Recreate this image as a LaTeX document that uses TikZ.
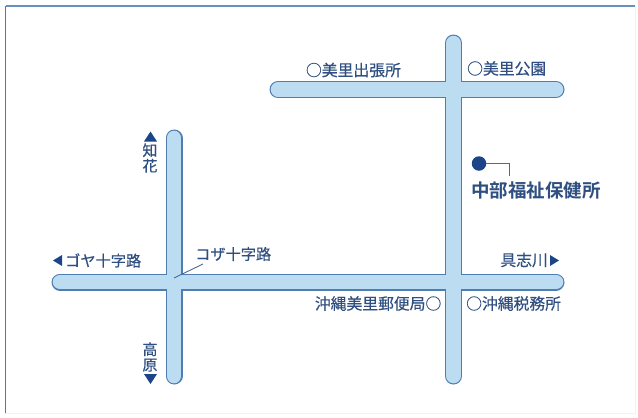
\documentclass[tikz,border=0pt]{standalone}
\usepackage{fontspec}
\setmainfont[FakeBold=0.35]{Noto Sans CJK JP}
\newfontfamily\labelbold{Noto Sans CJK JP Bold}
\definecolor{roadfill}{HTML}{BCDCF2}
\definecolor{roadedge}{HTML}{4F7DB0}
\definecolor{ink}{HTML}{2F4F80}
\definecolor{navy}{HTML}{1C4488}
\tikzset{
  roadedgeline/.style={draw=roadedge,line width=17pt,line cap=round},
  roadfillline/.style={draw=roadfill,line width=14.6pt,line cap=round},
  lab/.style={inner sep=0pt,text=ink,font=\fontsize{15.8pt}{16pt}\selectfont},
  labnarrow/.style={lab,font=\fontsize{15.2pt}{16pt}\selectfont},
  vlab/.style={lab,align=center,font=\fontsize{15pt}{15.5pt}\selectfont},
  tip/.style={fill=navy,draw=none},
  leader/.style={draw=ink!85,line width=0.9pt},
}
\begin{document}
\begin{tikzpicture}[x=1pt,y=-1pt]
\useasboundingbox (0,0) rectangle (638,418);
\fill[white] (0,0) rectangle (638,418);
% frame
\draw[draw=black!5,line width=1pt] (635,6) -- (635,413) -- (5,413);
\draw[draw=black!55,line width=1.2pt] (5.5,413) -- (5.5,6);
\draw[draw=roadedge!85,line width=1.2pt] (5.5,6) -- (635,6);
% road end points
\coordinate (va1) at (174,138);
\coordinate (va2) at (174,376);
\coordinate (vb1) at (453.5,43);
\coordinate (vb2) at (453.5,376);
\coordinate (ha1) at (60,282);
\coordinate (ha2) at (556,282);
\coordinate (hb1) at (278,89.5);
\coordinate (hb2) at (556,89.5);
% roads
\foreach \a/\b in {va1/va2,vb1/vb2,ha1/ha2,hb1/hb2}
  \draw[roadedgeline] (\a) -- (\b);
\foreach \a/\b in {va1/va2,vb1/vb2,ha1/ha2,hb1/hb2}
  \draw[roadfillline] (\a) -- (\b);
% labels
\node[lab,anchor=east] (shutcho) at (401,70) {○美里出張所};
\node[lab,anchor=west] (koen) at (467,68.5) {○美里公園};
\node[labnarrow,anchor=west] (goya) at (65,260.5) {ゴヤ十字路};
\node[labnarrow,anchor=west] (koza) at (195,254) {コザ十字路};
\node[lab,anchor=east] (gushi) at (548,260) {具志川};
\node[lab,anchor=east] (yubin) at (441.5,303.5) {沖縄美里郵便局○};
\node[lab,anchor=west] (zeimu) at (466,303.5) {○沖縄税務所};
\node[vlab] (chibana) at (150,158) {知\\花};
\node[vlab] (takahara) at (150,357) {高\\原};
\node[inner sep=0pt,text=ink,anchor=west,font=\labelbold\fontsize{18.5pt}{19pt}\selectfont] (hoken) at (471,190) {中部福祉保健所};
% direction tips
\fill[tip] (144,141.5) -- (150.5,131.5) -- (157,141.5) -- cycle;
\fill[tip] (144,374) -- (150.5,384) -- (157,374) -- cycle;
\fill[tip] (62,255) -- (53,260.5) -- (62,266) -- cycle;
\fill[tip] (550,255) -- (559,260.5) -- (550,266) -- cycle;
% health centre marker
\node[circle,fill=navy,draw=none,minimum size=14.5pt,inner sep=0pt] (dot) at (479,163.5) {};
\coordinate (bend) at (509,163.5);
\coordinate (drop) at (509,176);
\draw[leader] (dot) -- (bend) -- (drop);
% Koza leader
\coordinate (kozafoot) at (174,278);
\coordinate (kozahead) at (203,264);
\draw[leader] (kozafoot) -- (kozahead);
\end{tikzpicture}
\end{document}
